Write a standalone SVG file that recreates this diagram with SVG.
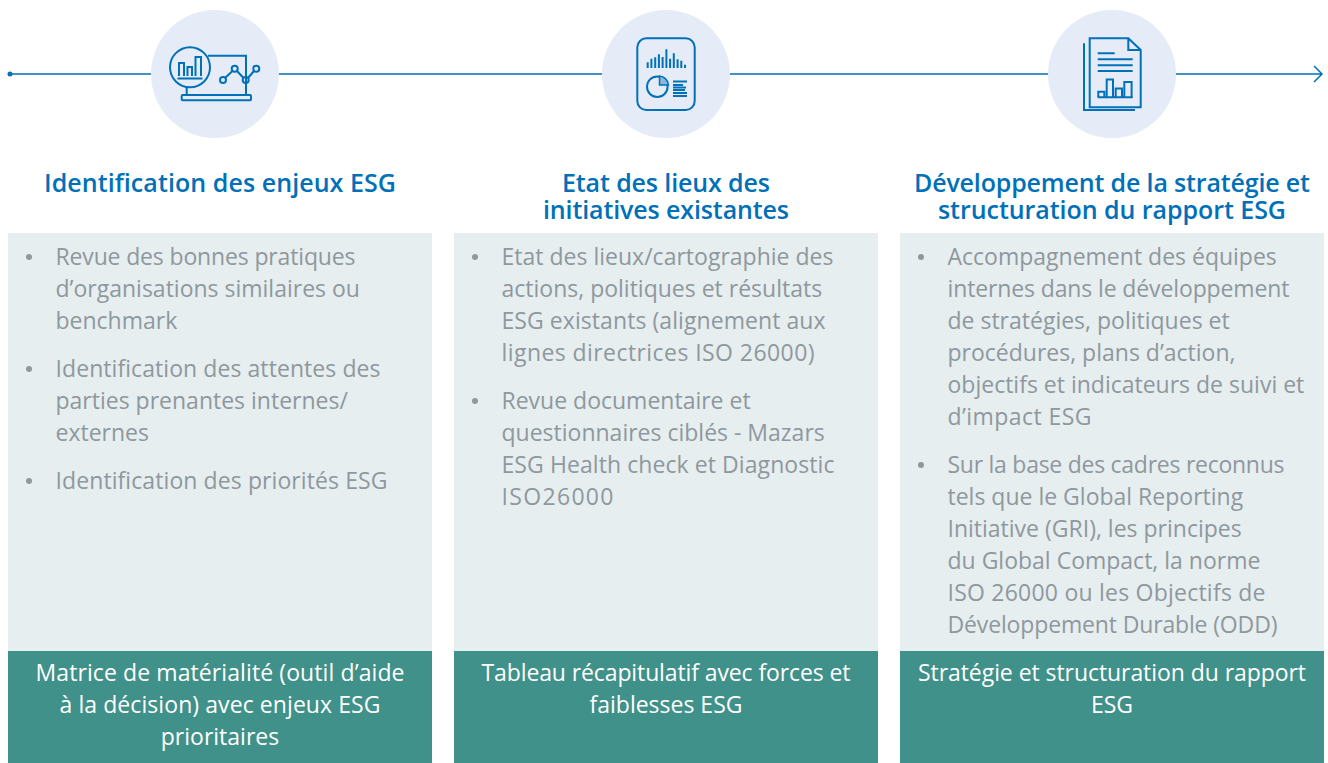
<svg xmlns="http://www.w3.org/2000/svg" width="1328" height="763" viewBox="0 0 1328 763">
<style>
text{font-family:"Open Sans","Noto Sans","Liberation Sans",sans-serif}
.h{font-size:25px;font-weight:600;fill:#0070b8;text-anchor:middle}
.b{font-size:23px;fill:#8f989d}
.f{font-size:23px;fill:#fff;text-anchor:middle}
.p{fill:#e6ecf7}
.c{fill:#e6eef0}
.g{fill:#40918a}
.l{fill:none;stroke:#0070b8;stroke-width:1.5}
.i{fill:none;stroke:#0070b8;stroke-width:2}
.t{fill:none;stroke:#0070b8;stroke-width:2}
.d{fill:#8f989d}
</style>
<rect width="1328" height="763" fill="#fff"/>
<g id="connectors"><path class="l" d="M10 74H1322M1314 66l8 8-8 8"/><circle cx="10" cy="74" r="2.500" fill="#0070b8"/></g>

<g id="n1">
<circle class="p" cx="215" cy="74" r="64"/>
<g class="i"><circle cx="190" cy="67.300" r="20"/><path d="M208 55.700H246V95M186.700 87V95"/><rect x="181.700" y="95" width="69.300" height="5.300" rx="1"/>
<path d="M179 76V63H184V76M187.500 76V67H192V76M195.500 76V57H201V76M177.500 78.500H202.500"/>
<path d="M225 78L232.500 71M237 71L243.500 78M248 78L254 71"/><circle cx="223" cy="80" r="3"/><circle cx="234.700" cy="68.700" r="3"/><circle cx="245.700" cy="80" r="3"/><circle cx="256.300" cy="68.700" r="3"/></g>
<text class="h" x="220" y="192" textLength="352">Identification des enjeux ESG</text>
<rect class="c" x="8" y="233" width="424" height="418"/>
<circle class="d" cx="29" cy="257" r="3"/><circle class="d" cx="29" cy="369" r="3"/><circle class="d" cx="29" cy="481" r="3"/>
<text class="b" x="55.500" y="265" textLength="300">Revue des bonnes pratiques</text>
<text class="b" x="55.500" y="297">d’organisations similaires ou</text>
<text class="b" x="55.500" y="329">benchmark</text>
<text class="b" x="55.500" y="377" textLength="325">Identification des attentes des</text>
<text class="b" x="55.500" y="409">parties prenantes internes/</text>
<text class="b" x="55.500" y="441">externes</text>
<text class="b" x="55.500" y="489" textLength="332">Identification des priorités ESG</text>
<rect class="g" x="8" y="651" width="424" height="112"/>
<text class="f" x="220" y="681" textLength="369">Matrice de matérialité (outil d’aide</text>
<text class="f" x="220" y="713" textLength="321">à la décision) avec enjeux ESG</text>
<text class="f" x="220" y="745">prioritaires</text>
</g>

<g id="n2">
<circle class="p" cx="666" cy="74" r="64"/>
<rect class="i" x="637.300" y="38.300" width="57.400" height="71.700" rx="9"/>
<path class="t" d="M647.700 68V62.300M651.400 68V58.700M655.200 68V57.300M658.900 68V54.300M662.600 68V57M666.400 68V49.300M670.100 68V58.700M673.800 68V53.300M677.600 68V59.300M681.300 68V60.700M685 68V64.700"/>
<circle class="i" cx="657.300" cy="86.700" r="10.300"/>
<path d="M659.500 76V85H668.500A10 10 0 0 0 659.500 76Z" fill="#8db8dc" stroke="#0070b8" stroke-width="1.500"/>
<path class="t" d="M673 81.500H687M673 85H683M673 87.500H686M673 90H685M673 93H687M673 96H687"/>
<text class="h" x="666" y="192" textLength="208">Etat des lieux des</text>
<text class="h" x="666" y="219" textLength="246">initiatives existantes</text>
<rect class="c" x="454" y="233" width="424" height="418"/>
<circle class="d" cx="475" cy="257" r="3"/><circle class="d" cx="475" cy="401" r="3"/>
<text class="b" x="501.500" y="265" textLength="332">Etat des lieux/cartographie des</text>
<text class="b" x="501.500" y="297">actions, politiques et résultats</text>
<text class="b" x="501.500" y="329" textLength="324">ESG existants (alignement aux</text>
<text class="b" x="501.500" y="361" textLength="313">lignes directrices ISO 26000)</text>
<text class="b" x="501.500" y="409">Revue documentaire et</text>
<text class="b" x="501.500" y="441">questionnaires ciblés - Mazars</text>
<text class="b" x="501.500" y="473" textLength="333">ESG Health check et Diagnostic</text>
<text class="b" x="501.500" y="505" textLength="112">ISO26000</text>
<rect class="g" x="454" y="651" width="424" height="112"/>
<text class="f" x="666" y="681" textLength="369">Tableau récapitulatif avec forces et</text>
<text class="f" x="666" y="713">faiblesses ESG</text>
</g>

<g id="n3">
<circle class="p" cx="1112" cy="74" r="64"/>
<path class="i" d="M1084 43.300V110H1135M1089.700 38.300H1128.300L1140.700 50V107.300H1089.700ZM1128.300 38.300V50H1140.700"/>
<path class="t" d="M1097.700 53.300H1114.700M1097.700 59.300H1132.700M1097.700 65.300H1132.700M1097.700 71H1132.700M1097.700 97.300H1132.700"/>
<path class="i" d="M1098.300 97.300V91.700H1104.300V97.300M1106.700 97.300V79.500H1113V97.300M1115.700 97.300V88.500H1122V97.300M1124.300 97.300V82H1131.600V97.300"/>
<text class="h" x="1112" y="192" textLength="396">Développement de la stratégie et</text>
<text class="h" x="1112" y="219" textLength="348">structuration du rapport ESG</text>
<rect class="c" x="900" y="233" width="424" height="418"/>
<circle class="d" cx="921" cy="257" r="3"/><circle class="d" cx="921" cy="465" r="3"/>
<text class="b" x="947.500" y="265">Accompagnement des équipes</text>
<text class="b" x="947.500" y="297" textLength="342">internes dans le développement</text>
<text class="b" x="947.500" y="329">de stratégies, politiques et</text>
<text class="b" x="947.500" y="361">procédures, plans d’action,</text>
<text class="b" x="947.500" y="393">objectifs et indicateurs de suivi et</text>
<text class="b" x="947.500" y="425" textLength="144">d’impact ESG</text>
<text class="b" x="947.500" y="473" textLength="337">Sur la base des cadres reconnus</text>
<text class="b" x="947.500" y="505">tels que le Global Reporting</text>
<text class="b" x="947.500" y="537">Initiative (GRI), les principes</text>
<text class="b" x="947.500" y="569">du Global Compact, la norme</text>
<text class="b" x="947.500" y="601" textLength="318">ISO 26000 ou les Objectifs de</text>
<text class="b" x="947.500" y="633" textLength="330">Développement Durable (ODD)</text>
<rect class="g" x="900" y="651" width="424" height="112"/>
<text class="f" x="1112" y="681" textLength="388">Stratégie et structuration du rapport</text>
<text class="f" x="1112" y="713">ESG</text>
</g>
</svg>
